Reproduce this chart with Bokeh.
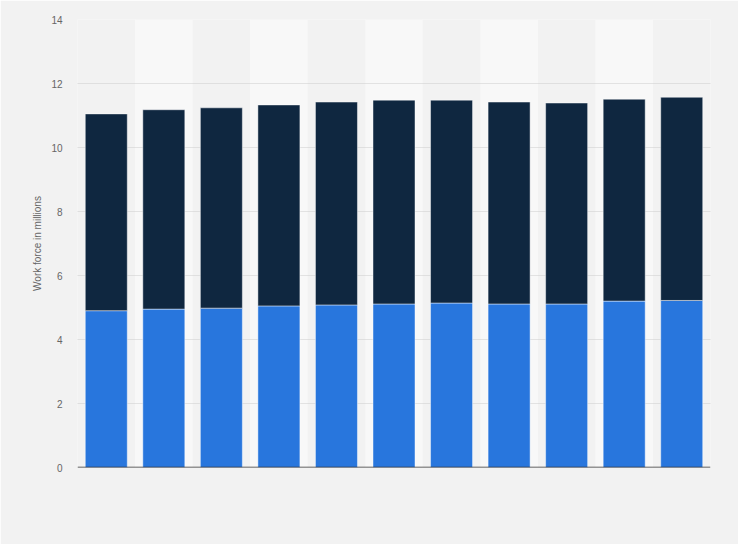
from bokeh.plotting import figure
from bokeh.embed import file_html
from bokeh.resources import INLINE
from bokeh.models import FixedTicker, Span

# Data
categories = ["2009", "2010", "2011", "2012", "2013", "2014",
              "2015", "2016", "2017", "2018", "2019"]
series_blue = [4.90, 4.95, 4.98, 5.05, 5.08, 5.11, 5.14, 5.11, 5.11, 5.20, 5.22]
series_navy = [6.15, 6.23, 6.26, 6.28, 6.34, 6.37, 6.34, 6.31, 6.28, 6.31, 6.35]
y_ticks = [0, 2, 4, 6, 8, 10, 12, 14]
y_label = "Work force in millions"

FONT = "Liberation Sans"

p = figure(x_range=categories, y_range=(0, 14), width=738, height=544,
           output_backend="svg", toolbar_location=None,
           min_border_left=77, min_border_right=28,
           min_border_top=19, min_border_bottom=77)
p.background_fill_color = "#f2f2f2"
p.border_fill_color = "#f2f2f2"
p.outline_line_color = None

# alternating background bands
band_cats = categories[1::2]
p.vbar(x=band_cats, width=1.0, bottom=0, top=14, fill_color="#f8f8f8",
       line_color=None, level="underlay")

data = dict(cat=categories, blue=series_blue, navy=series_navy)
p.vbar_stack(["blue", "navy"], x="cat", width=0.73, source=data,
             color=["#2876dd", "#0f2740"], line_color="#ffffff",
             line_alpha=0.45, line_width=1)

p.xgrid.grid_line_color = None
p.ygrid.grid_line_color = "#cccccc"
p.ygrid.grid_line_dash = "1 1"
p.ygrid.grid_line_width = 1
p.ygrid.level = "underlay"

p.yaxis.ticker = FixedTicker(ticks=y_ticks)
p.yaxis.axis_line_color = None
p.yaxis.major_tick_line_color = None
p.yaxis.minor_tick_line_color = None
p.yaxis.major_label_text_color = "#666666"
p.yaxis.major_label_text_font = FONT
p.yaxis.major_label_text_font_size = "10px"
p.yaxis.major_label_standoff = 9
p.yaxis.axis_label = y_label
p.yaxis.axis_label_text_font = FONT
p.yaxis.axis_label_text_font_size = "10px"
p.yaxis.axis_label_text_font_style = "normal"
p.yaxis.axis_label_text_color = "#666666"
p.yaxis.axis_label_standoff = 5

# no category labels in the reference: hide the x axis, keep its baseline
p.xaxis.visible = False
p.add_layout(Span(location=0, dimension="width", line_color="#333333",
                  line_width=1.5))
p.x_range.range_padding = 0

open("out.html", "w").write(file_html(p, INLINE))
